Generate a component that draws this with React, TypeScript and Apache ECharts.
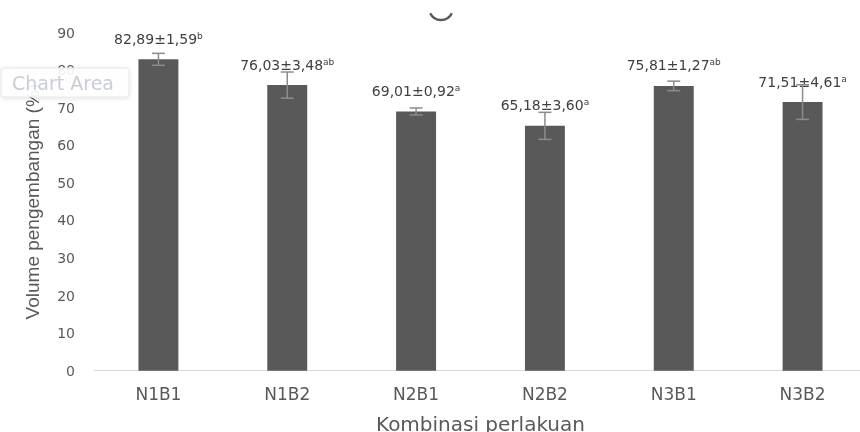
import React, { useEffect, useRef } from "react";
import * as echarts from "echarts";

const categories = ["N1B1", "N1B2", "N2B1", "N2B2", "N3B1", "N3B2"];
const means = [82.89, 76.03, 69.01, 65.18, 75.81, 71.51];
const errors = [1.59, 3.48, 0.92, 3.6, 1.27, 4.61];
const letters = ["b", "ab", "a", "a", "ab", "a"];
const yTicks = { min: 0, max: 90, interval: 10 };

const fmt = (v: number) => v.toFixed(2).replace(".", ",");

export default function App() {
  const ref = useRef<HTMLDivElement>(null);
  useEffect(() => {
    if (!ref.current) return;
    const chart = echarts.init(ref.current, null, { renderer: "svg" });
    const font = "'DejaVu Sans', sans-serif";
    const narrow = "'Liberation Sans', Arial, sans-serif";
    chart.setOption({
      animation: false,
      textStyle: { fontFamily: font },
      grid: { left: 94, right: 0, top: 32.6, bottom: 61.3, containLabel: false, outerBoundsMode: "none" },
      xAxis: {
        type: "category",
        data: categories,
        axisLine: { lineStyle: { color: "#d9d9d9", width: 1 } },
        axisTick: { show: false },
        axisLabel: { color: "#595959", fontSize: 17, margin: 15, fontFamily: font },
        name: "Kombinasi perlakuan",
        nameLocation: "middle",
        nameGap: 43,
        nameTextStyle: { color: "#595959", fontSize: 20, fontFamily: font, align: "center" },
      },
      yAxis: {
        type: "value",
        min: yTicks.min,
        max: yTicks.max,
        interval: yTicks.interval,
        axisLine: { show: false },
        axisTick: { show: false },
        splitLine: { show: false },
        axisLabel: { color: "#595959", fontSize: 14, margin: 19, fontFamily: font },
        name: "Volume pengembangan (%)",
        nameLocation: "middle",
        nameGap: 52,
        nameRotate: 90,
        nameTextStyle: { color: "#595959", fontSize: 19, fontFamily: narrow },
      },
      series: [
        {
          type: "bar",
          data: means.map((v, i) => ({
            value: v,
            label: {
              formatter: `{v|${fmt(v)}±${fmt(errors[i])}}{s|${letters[i]}}`,
            },
          })),
          barWidth: "31%",
          itemStyle: { color: "#595959" },
          label: {
            show: true,
            position: "top",
            distance: 13,
            rich: {
              v: { color: "#404040", fontSize: 14, fontFamily: font },
              s: { color: "#404040", fontSize: 9, fontFamily: font, verticalAlign: "top", padding: [0, 0, 6, 0] },
            },
          },
          z: 2,
        },
        {
          type: "custom",
          data: means.map((v, i) => [i, v, errors[i]]),
          z: 3,
          renderItem: (params: any, api: any) => {
            const i = api.value(0);
            const m = api.value(1);
            const e = api.value(2);
            const hi = api.coord([i, m + e]);
            const lo = api.coord([i, m - e]);
            const cap = 6.5;
            const style = { stroke: "#8c8c8c", lineWidth: 1.5 };
            return {
              type: "group",
              children: [
                { type: "line", shape: { x1: hi[0], y1: hi[1], x2: lo[0], y2: lo[1] }, style },
                { type: "line", shape: { x1: hi[0] - cap, y1: hi[1], x2: hi[0] + cap, y2: hi[1] }, style },
                { type: "line", shape: { x1: lo[0] - cap, y1: lo[1], x2: lo[0] + cap, y2: lo[1] }, style },
              ],
            };
          },
        },
      ],
      graphic: [
        {
          type: "arc",
          shape: { cx: 441, cy: 8, r: 12, startAngle: 0.45, endAngle: Math.PI - 0.45 },
          style: { stroke: "#595959", lineWidth: 2.4, fill: "none" },
        },
        {
          type: "rect",
          shape: { x: 1, y: 68, width: 128, height: 29, r: 3 },
          style: { fill: "rgba(255,255,255,0.9)", stroke: "#e6e6e6", lineWidth: 1, shadowBlur: 4, shadowColor: "rgba(0,0,0,0.12)", shadowOffsetY: 1 },
          z: 100,
        },
        {
          type: "text",
          x: 12,
          y: 83,
          style: { text: "Chart Area", fill: "#c9cdd6", fontSize: 19, fontFamily: font, verticalAlign: "middle" },
          z: 101,
        },
      ],
    });
    return () => chart.dispose();
  }, []);
  return (
    <div style={{ position: "fixed", left: 0, top: 0, width: 860, height: 432, overflow: "hidden" }}>
      <div ref={ref} style={{ width: 867, height: 432 }} />
    </div>
  );
}
